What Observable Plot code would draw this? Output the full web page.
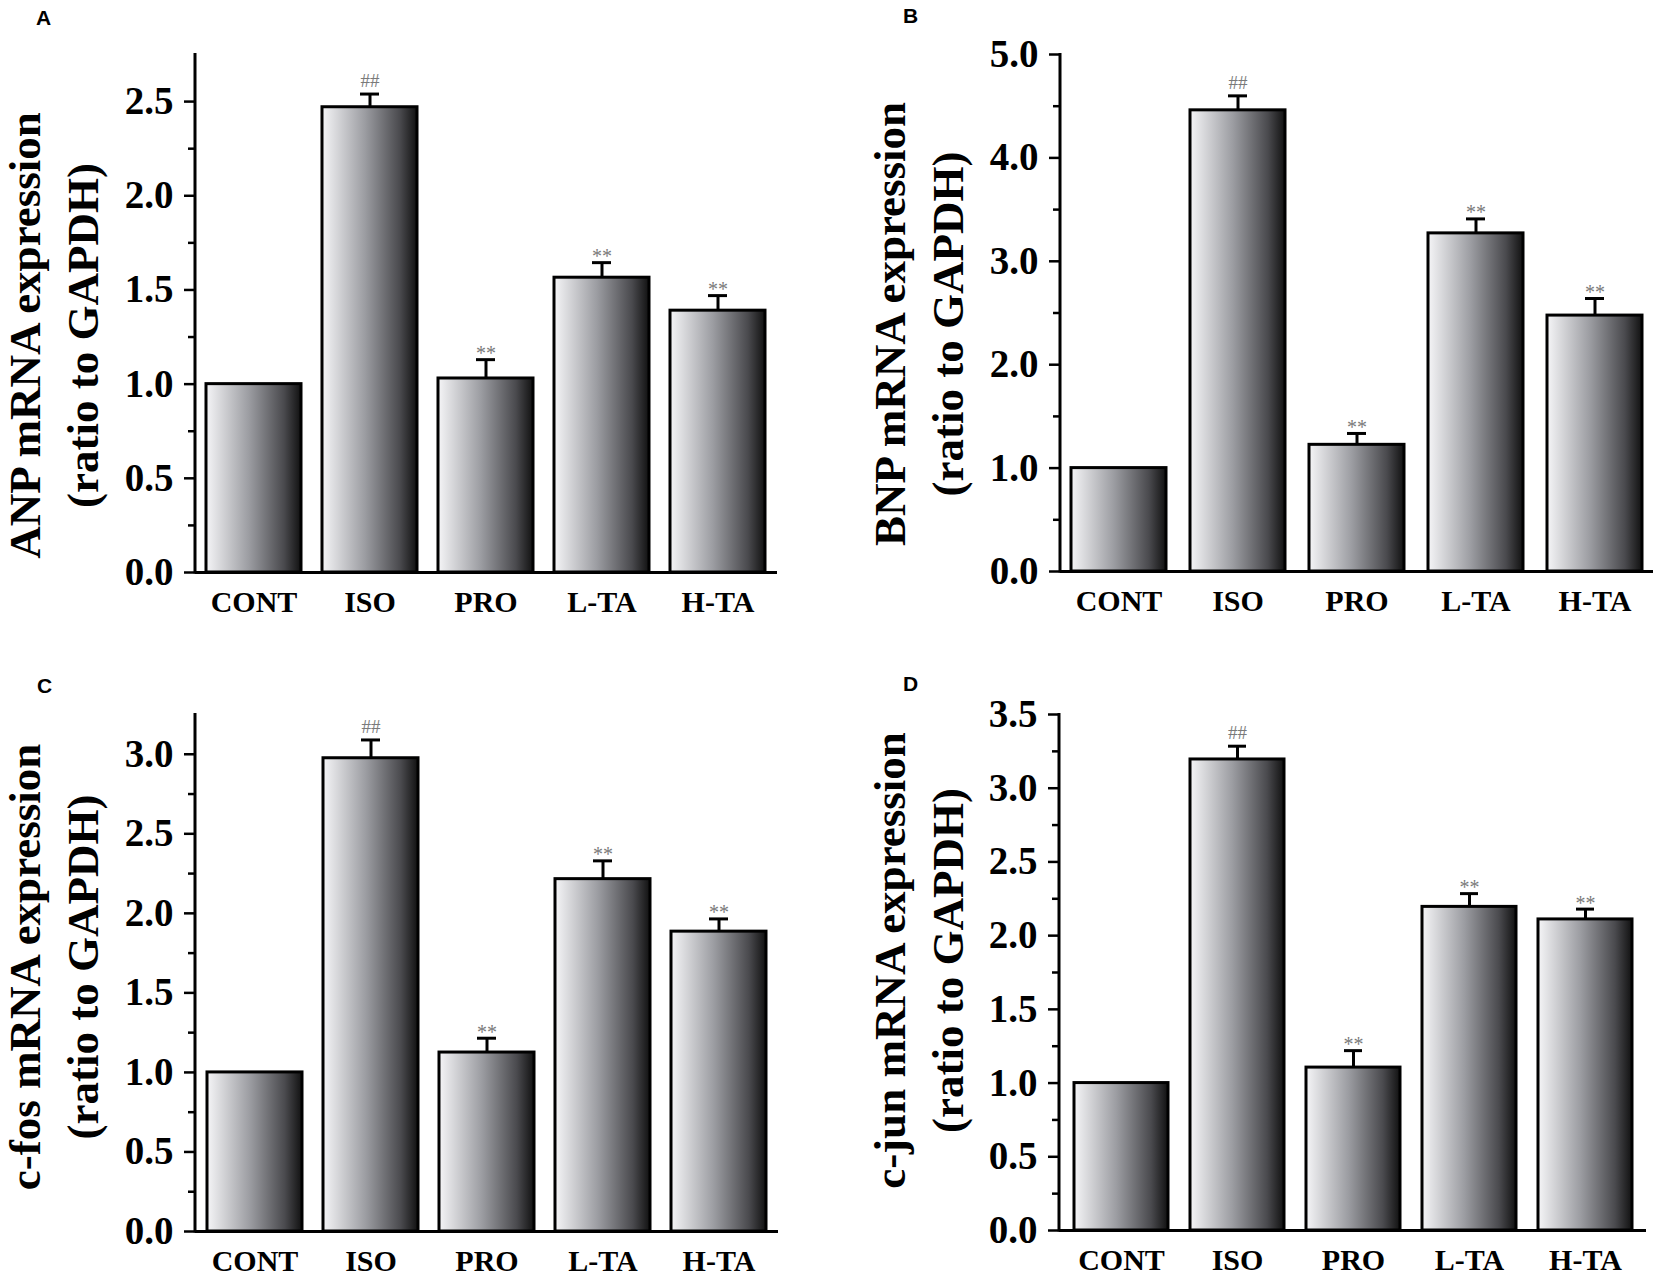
<!DOCTYPE html>
<html>
<head>
<meta charset="utf-8">
<script src="https://cdn.jsdelivr.net/npm/d3@7"></script>
<script src="https://cdn.jsdelivr.net/npm/@observablehq/plot@0.6"></script>
<style>
html, body { margin: 0; padding: 0; background: #fff; }
#root { position: relative; width: 1654px; height: 1281px; overflow: hidden; background: #fff; }
.panel { position: absolute; }
.panel svg { display: block; overflow: visible; }
</style>
</head>
<body>
<div id="root"></div>
<script>
// ---------- data ----------
const categories = ["CONT", "ISO", "PRO", "L-TA", "H-TA"];
const significance = ["", "##", "**", "**", "**"];

const anpValues  = [1.00, 2.47, 1.03, 1.565, 1.39];
const anpErrors  = [0, 0.07, 0.10, 0.08, 0.08];
const bnpValues  = [1.00, 4.46, 1.225, 3.27, 2.475];
const bnpErrors  = [0, 0.14, 0.11, 0.14, 0.165];
const cfosValues = [1.00, 2.975, 1.125, 2.215, 1.885];
const cfosErrors = [0, 0.115, 0.09, 0.115, 0.08];
const cjunValues = [1.00, 3.195, 1.105, 2.195, 2.11];
const cjunErrors = [0, 0.09, 0.115, 0.09, 0.07];

const anpTicks  = [0, 0.5, 1.0, 1.5, 2.0, 2.5];
const anpMinor  = [0.25, 0.75, 1.25, 1.75, 2.25];
const bnpTicks  = [0, 1, 2, 3, 4, 5];
const bnpMinor  = [0.5, 1.5, 2.5, 3.5, 4.5];
const cfosTicks = [0, 0.5, 1.0, 1.5, 2.0, 2.5, 3.0];
const cfosMinor = [0.25, 0.75, 1.25, 1.75, 2.25, 2.75];
const cjunTicks = [0, 0.5, 1.0, 1.5, 2.0, 2.5, 3.0, 3.5];
const cjunMinor = [0.25, 0.75, 1.25, 1.75, 2.25, 2.75, 3.25];

const anpTitle  = ["ANP mRNA expression", "(ratio to GAPDH)"];
const bnpTitle  = ["BNP mRNA expression", "(ratio to GAPDH)"];
const cfosTitle = ["c-fos mRNA expression", "(ratio to GAPDH)"];
const cjunTitle = ["c-jun mRNA expression", "(ratio to GAPDH)"];

// ---------- layout ----------
const panels = [
  {letter: "A", values: anpValues, errors: anpErrors, ticks: anpTicks, minor: anpMinor, title: anpTitle, yMax: 2.75,
   left: 0, top: 0, width: 830, height: 640, mL: 195, mR: 53, mT: 54, mB: 68, pi: 0.18, po: 0.09,
   titleDy: 22, letterDx: -152, letterDy: -36.5},
  {letter: "B", values: bnpValues, errors: bnpErrors, ticks: bnpTicks, minor: bnpMinor, title: bnpTitle, yMax: 5.0,
   left: 865, top: 0, width: 789, height: 640, mL: 195, mR: 1, mT: 54, mB: 69, pi: 0.2, po: 0.09,
   titleDy: 11, letterDx: -150, letterDy: -38},
  {letter: "C", values: cfosValues, errors: cfosErrors, ticks: cfosTicks, minor: cfosMinor, title: cfosTitle, yMax: 3.25,
   left: 0, top: 660, width: 830, height: 621, mL: 195, mR: 52, mT: 54, mB: 50, pi: 0.18, po: 0.09,
   titleDy: -6, letterDx: -151, letterDy: -28},
  {letter: "D", values: cjunValues, errors: cjunErrors, ticks: cjunTicks, minor: cjunMinor, title: cjunTitle, yMax: 3.5,
   left: 865, top: 660, width: 789, height: 621, mL: 194, mR: 8, mT: 54, mB: 51, pi: 0.19, po: 0.12,
   titleDy: -12, letterDx: -149, letterDy: -30}
];

const serif = "'Liberation Serif', 'Times New Roman', Times, serif";
const sans = "'Liberation Sans', Arial, Helvetica, sans-serif";

function gradientDefs(id) {
  return () => {
    const defs = d3.create("svg:defs");
    const g = defs.append("linearGradient").attr("id", id)
      .attr("x1", 0).attr("x2", 1).attr("y1", 0).attr("y2", 0);
    [[0, "#f5f5f7"], [0.45, "#9c9da2"], [0.82, "#4a4a4e"], [1, "#111111"]].forEach(([o, c]) =>
      g.append("stop").attr("offset", o).attr("stop-color", c));
    return defs.node();
  };
}

function yAxisLine(yMax) {
  return (index, scales, values, dims) => {
    const x = dims.marginLeft;
    return d3.create("svg:line")
      .attr("x1", x).attr("x2", x)
      .attr("y1", scales.y(yMax) - 1)
      .attr("y2", scales.y(0) + 1.5)
      .attr("stroke", "#000").attr("stroke-width", 3).node();
  };
}

const root = document.getElementById("root");

for (const p of panels) {
  const rows = categories.map((c, i) => ({cat: c, value: p.values[i], err: p.errors[i], sig: significance[i]}));
  const withErr = rows.filter(d => d.err > 0);
  const gid = "barGrad" + p.letter;
  const chart = Plot.plot({
    width: p.width,
    height: p.height,
    marginLeft: p.mL, marginRight: p.mR, marginTop: p.mT, marginBottom: p.mB,
    style: {fontFamily: serif, background: "transparent", color: "#000", overflow: "visible"},
    x: {domain: categories, paddingInner: p.pi, paddingOuter: p.po},
    y: {domain: [0, p.yMax]},
    marks: [
      gradientDefs(gid),
      Plot.barY(rows, {x: "cat", y: "value", fill: `url(#${gid})`, stroke: "#000", strokeWidth: 3}),
      Plot.ruleX(withErr, {x: "cat", y1: "value", y2: d => d.value + d.err, stroke: "#000", strokeWidth: 3}),
      Plot.tickY(withErr, {x: "cat", y: d => d.value + d.err, stroke: "#000", strokeWidth: 3, insetLeft: 38, insetRight: 38}),
      Plot.text(rows.filter(d => d.sig === "##"), {x: "cat", y: d => d.value + d.err, text: "sig", dy: -13, fill: "#7a7a7a", fontSize: 19, fontFamily: serif}),
      Plot.text(rows.filter(d => d.sig === "**"), {x: "cat", y: d => d.value + d.err, text: "sig", dy: -6, fill: "#7a7a7a", fontSize: 20, fontFamily: serif}),
      Plot.axisY({ticks: p.minor, tickSize: 7, tickFormat: () => "", strokeWidth: 2.5, label: null}),
      Plot.axisY({ticks: p.ticks, tickSize: 11, tickPadding: 11, tickFormat: d => d.toFixed(1), strokeWidth: 2.5,
                  fontSize: 39, fontWeight: "bold", fontFamily: serif, fill: "#000", label: null}),
      Plot.axisX({tickSize: 0, tickPadding: 18, fontSize: 30, fontWeight: "bold", fontFamily: serif, fill: "#000", label: null}),
      Plot.ruleY([0], {stroke: "#000", strokeWidth: 3}),
      yAxisLine(p.yMax),
      Plot.text([p.title[0]], {text: d => d, frameAnchor: "left", textAnchor: "middle", lineAnchor: "middle", rotate: -90,
                  dx: 25 - p.mL, dy: p.titleDy, fontSize: 45, fontWeight: "bold", fontFamily: serif, fill: "#000"}),
      Plot.text([p.title[1]], {text: d => d, frameAnchor: "left", textAnchor: "middle", lineAnchor: "middle", rotate: -90,
                  dx: 83 - p.mL, dy: p.titleDy, fontSize: 45, fontWeight: "bold", fontFamily: serif, fill: "#000"}),
      Plot.text([p.letter], {text: d => d, frameAnchor: "top-left", textAnchor: "middle", lineAnchor: "middle",
                  dx: p.letterDx, dy: p.letterDy, fontSize: 21, fontWeight: "bold", fontFamily: sans, fill: "#000"})
    ]
  });
  const div = document.createElement("div");
  div.className = "panel";
  div.style.left = p.left + "px";
  div.style.top = p.top + "px";
  div.appendChild(chart);
  root.appendChild(div);
}
</script>
</body>
</html>
